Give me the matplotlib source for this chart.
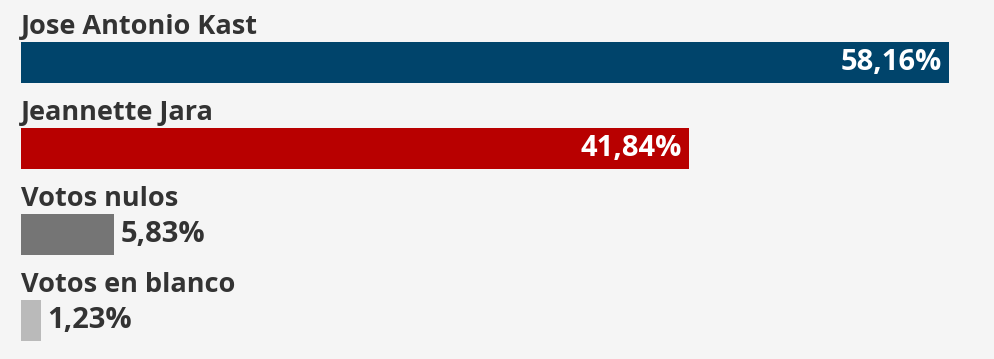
import matplotlib
matplotlib.use("Agg")
import matplotlib.pyplot as plt

candidates = ["Jose Antonio Kast", "Jeannette Jara", "Votos nulos", "Votos en blanco"]
values = [58.16, 41.84, 5.83, 1.23]
value_labels = ["58,16%", "41,84%", "5,83%", "1,23%"]
colors = ["#00446b", "#b80000", "#757575", "#bababa"]
inside = [True, True, False, False]

W, H = 995, 359
fig = plt.figure(figsize=(W / 100, H / 100), dpi=100)
fig.patch.set_facecolor("#f5f5f5")
left_px = 21
ax = fig.add_axes([left_px / W, 0, (W - left_px) / W, 1])
ax.set_facecolor("#f5f5f5")
px_per_pct = 15.96
ax.set_xlim(0, (W - left_px) / px_per_pct)
row_px = 86.0
top_unit = -62.5 / row_px
ax.set_ylim(top_unit + H / row_px, top_unit)
bar_h = 41.0 / row_px

txt_color = "#333333"
font = "Open Sans"
fs_name = 19.5
fs_val = 21

for i, (name, v, lab, c, ins) in enumerate(zip(candidates, values, value_labels, colors, inside)):
    ax.barh(i, v, height=bar_h, color=c, left=0)
    ax.annotate(name, xy=(0, i - bar_h / 2), xytext=(0, 5.8), textcoords="offset points",
                ha="left", va="baseline", fontsize=fs_name, fontweight="bold",
                family=font, color=txt_color)
    if ins:
        ax.annotate(lab, xy=(v, i), xytext=(-5.0, 0), textcoords="offset points",
                    ha="right", va="center", fontsize=fs_val, fontweight="bold",
                    family=font, color="white")
    else:
        ax.annotate(lab, xy=(v, i), xytext=(5.0, 0), textcoords="offset points",
                    ha="left", va="center", fontsize=fs_val, fontweight="bold",
                    family=font, color=txt_color)

ax.axis("off")
fig.savefig("out.png", dpi=100, facecolor=fig.get_facecolor())
